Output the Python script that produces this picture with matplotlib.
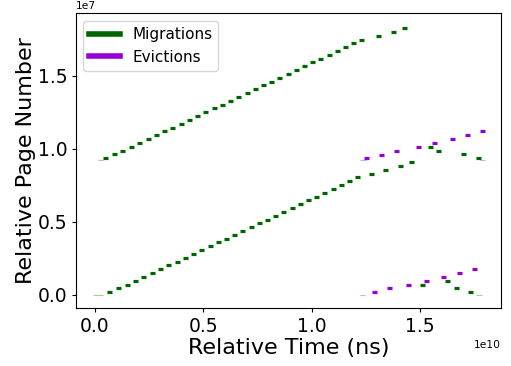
"""Page migrations and evictions over time (relative page number vs relative time)."""
import matplotlib
matplotlib.use("Agg")
import matplotlib.pyplot as plt
from matplotlib.lines import Line2D

MIG_COLOR = "darkgreen"
EVICT_COLOR = "darkviolet"

# migration events, time in 1e10 ns and page number in 1e7 pages
mig_time = [
    # lower run
    0.066, 0.106, 0.146, 0.185, 0.223, 0.262, 0.300, 0.338, 0.377, 0.415,
    0.454, 0.491, 0.529, 0.566, 0.605, 0.642, 0.680, 0.718, 0.757, 0.794,
    0.832, 0.869, 0.908, 0.946, 0.983, 1.022, 1.058, 1.097, 1.135, 1.172,
    1.211, 1.272, 1.340, 1.409, 1.460, 1.545, 1.582, 1.697, 1.766,
    # upper run
    0.048, 0.088, 0.126, 0.166, 0.205, 0.243, 0.282, 0.320, 0.357, 0.395,
    0.434, 0.471, 0.509, 0.548, 0.586, 0.625, 0.662, 0.700, 0.738, 0.775,
    0.814, 0.851, 0.889, 0.926, 0.965, 1.003, 1.040, 1.078, 1.115, 1.154,
    1.191, 1.229, 1.306, 1.374, 1.425,
    # bottom right
    1.511, 1.624, 1.665, 1.733,
]
mig_page = [
    0.016, 0.044, 0.069, 0.096, 0.121, 0.149, 0.174, 0.201, 0.227, 0.254,
    0.279, 0.307, 0.332, 0.359, 0.384, 0.412, 0.437, 0.464, 0.490, 0.515,
    0.542, 0.567, 0.595, 0.620, 0.647, 0.672, 0.700, 0.725, 0.752, 0.778,
    0.805, 0.830, 0.858, 0.883, 0.908, 1.015, 0.988, 0.963, 0.935,
    0.938, 0.963, 0.988, 1.015, 1.043, 1.068, 1.093, 1.121, 1.146, 1.173,
    1.198, 1.226, 1.251, 1.278, 1.303, 1.331, 1.356, 1.384, 1.409, 1.436,
    1.461, 1.489, 1.514, 1.541, 1.566, 1.594, 1.619, 1.646, 1.671, 1.697,
    1.724, 1.749, 1.777, 1.802, 1.827,
    0.069, 0.096, 0.044, 0.016,
]

evict_time = [
    1.252, 1.322, 1.391, 1.492, 1.566, 1.646, 1.715, 1.786,
    1.288, 1.357, 1.443, 1.528, 1.606, 1.680, 1.749,
]
evict_page = [
    0.935, 0.960, 0.988, 1.013, 1.040, 1.068, 1.093, 1.121,
    0.016, 0.044, 0.069, 0.096, 0.121, 0.149, 0.174,
]

# thin base traces where a run starts / stops: (start, end, page)
mig_trace = [(-0.01, 0.035, 0.0), (0.015, 0.035, 0.922), (1.76, 1.785, 0.0), (1.775, 1.80, 0.922)]
evict_trace = [(1.222, 1.248, 0.0), (1.225, 1.25, 0.922)]

tick_values = [0.0, 0.5, 1.0, 1.5]


def main() -> None:
    fig = plt.figure(figsize=(5.11, 3.66), dpi=100)
    ax = fig.add_subplot(111)
    fig.subplots_adjust(left=0.1481, right=0.981, bottom=0.1576, top=0.9637)

    for traces, color in ((mig_trace, MIG_COLOR), (evict_trace, EVICT_COLOR)):
        for x0, x1, y in traces:
            ax.hlines(y * 1e7, x0 * 1e10, x1 * 1e10, color=color, lw=0.8, alpha=0.35)

    ax.plot([t * 1e10 for t in mig_time], [p * 1e7 for p in mig_page],
            linestyle="none", marker="_", markersize=3.6, markeredgewidth=2.3,
            color=MIG_COLOR)
    ax.plot([t * 1e10 for t in evict_time], [p * 1e7 for p in evict_page],
            linestyle="none", marker="_", markersize=3.6, markeredgewidth=2.3,
            color=EVICT_COLOR)

    ax.set_xlim(-0.0891e10, 1.8752e10)
    ax.set_ylim(-0.0933e7, 1.930e7)
    ax.set_xticks([v * 1e10 for v in tick_values])
    ax.set_yticks([v * 1e7 for v in tick_values])

    handles = [Line2D([], [], color=MIG_COLOR, lw=4),
               Line2D([], [], color=EVICT_COLOR, lw=4)]
    ax.legend(handles, ["Migrations", "Evictions"], loc="upper left", fontsize=11)

    ax.set_xlabel("Relative Time (ns)", fontsize=16, labelpad=2)
    ax.set_ylabel("Relative Page Number", fontsize=16, labelpad=1)
    plt.xticks(fontsize=13.5)
    plt.yticks(fontsize=13.5)
    ax.tick_params(length=3, pad=3)
    ax.xaxis.get_offset_text().set_fontsize(7.7)
    ax.yaxis.get_offset_text().set_fontsize(7.7)

    fig.savefig("out.png", dpi=100)


if __name__ == "__main__":
    main()
